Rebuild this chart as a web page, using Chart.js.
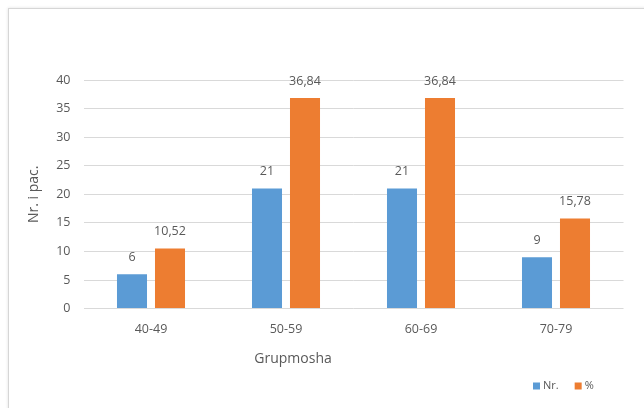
<!DOCTYPE html>
<html>
<head>
<meta charset="utf-8">
<script src="https://cdn.jsdelivr.net/npm/chart.js@4.4.1/dist/chart.umd.min.js"></script>
<style>
  html, body { margin: 0; padding: 0; background: #ffffff; }
  #wrap { position: relative; width: 644px; height: 408px; overflow: hidden; }
  #frame {
    position: absolute; left: 8px; top: 8px; width: 660px; height: 420px;
    border: 1px solid #d6d6d6; box-shadow: 0 0 3px rgba(0,0,0,0.12);
    background: #ffffff;
  }
  #c { position: absolute; left: 0; top: 0; }
</style>
</head>
<body>
<div id="wrap">
  <div id="frame"></div>
  <canvas id="c" width="644" height="408"></canvas>
</div>
<script>
// Age groups and patient counts / percentages
const categories = ['40-49', '50-59', '60-69', '70-79'];
const seriesNames = ['Nr.', '%'];
const countValues = [6, 21, 21, 9];
const percentValues = [10.52, 36.84, 36.84, 15.78];
const yTicks = [0, 5, 10, 15, 20, 25, 30, 35, 40];
const xTitle = 'Grupmosha';
const yTitle = 'Nr. i pac.';

const BLUE = '#5B9BD5';
const ORANGE = '#ED7D31';
const TEXT = '#595959';
const FONT = "'Open Sans', sans-serif";

// Value labels above each bar, decimal comma
const barLabels = {
  id: 'barLabels',
  afterDatasetsDraw(chart) {
    const ctx = chart.ctx;
    ctx.save();
    ctx.font = '12.5px ' + FONT;
    ctx.fillStyle = TEXT;
    ctx.textAlign = 'center';
    ctx.textBaseline = 'middle';
    chart.data.datasets.forEach((ds, i) => {
      chart.getDatasetMeta(i).data.forEach((bar, j) => {
        const txt = String(ds.data[j]).replace('.', ',');
        ctx.fillText(txt, bar.x, bar.y - 17);
      });
    });
    ctx.restore();
  }
};

// Category axis title, set left of centre under the second group
const xAxisTitle = {
  id: 'xAxisTitle',
  afterDraw(chart) {
    const ctx = chart.ctx;
    const a = chart.chartArea;
    ctx.save();
    ctx.font = '14px ' + FONT;
    ctx.fillStyle = TEXT;
    ctx.textAlign = 'center';
    ctx.textBaseline = 'middle';
    ctx.fillText(xTitle, a.left + (a.right - a.left) * 0.388, a.bottom + 50);
    ctx.restore();
  }
};

// Small legend in the lower right corner
const cornerLegend = {
  id: 'cornerLegend',
  afterDraw(chart) {
    const ctx = chart.ctx;
    ctx.save();
    ctx.font = '11px ' + FONT;
    ctx.textBaseline = 'middle';
    ctx.textAlign = 'left';
    const y = 386;
    let x = 533;
    chart.data.datasets.forEach((ds) => {
      ctx.fillStyle = ds.backgroundColor;
      ctx.fillRect(x, y - 3.5, 7, 7);
      ctx.fillStyle = TEXT;
      ctx.fillText(ds.label, x + 10, y);
      x += 10 + ctx.measureText(ds.label).width + 16;
    });
    ctx.restore();
  }
};

new Chart(document.getElementById('c'), {
  type: 'bar',
  data: {
    labels: categories,
    datasets: [
      { label: seriesNames[0], data: countValues, backgroundColor: BLUE },
      { label: seriesNames[1], data: percentValues, backgroundColor: ORANGE }
    ]
  },
  options: {
    responsive: false,
    animation: false,
    devicePixelRatio: 1,
    categoryPercentage: 0.563,
    barPercentage: 0.79,
    layout: { padding: { left: 20, right: 20.5, top: 80, bottom: 58.4 } },
    plugins: {
      legend: { display: false },
      tooltip: { enabled: false }
    },
    scales: {
      x: {
        grid: { display: false, drawTicks: false },
        border: { display: false },
        ticks: { color: TEXT, font: { family: FONT, size: 12.5, lineHeight: 1.2 }, padding: 13 }
      },
      y: {
        min: 0, max: 40,
        afterBuildTicks(scale) { scale.ticks = yTicks.map(v => ({ value: v })); },
        afterFit(scale) { scale.width = 83.5 - 20; },
        grid: { color: '#d9d9d9', lineWidth: 1, drawTicks: false },
        border: { display: false },
        ticks: { color: TEXT, font: { family: FONT, size: 12.5, lineHeight: 1.2 }, padding: 13 },
        title: {
          display: true, text: yTitle, color: TEXT,
          font: { family: FONT, size: 14, lineHeight: 1.2 },
          padding: { top: 6, bottom: 0 }
        }
      }
    }
  },
  plugins: [barLabels, xAxisTitle, cornerLegend]
});
</script>
</body>
</html>
